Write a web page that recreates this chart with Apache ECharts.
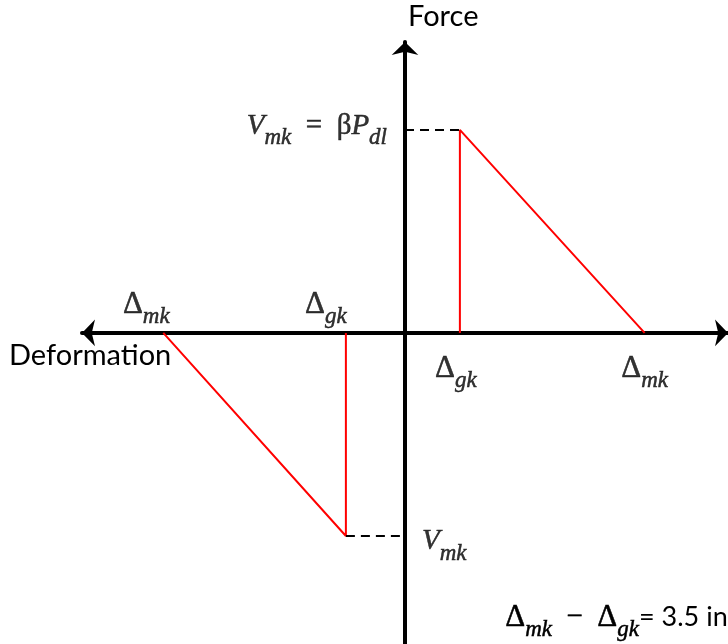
<!DOCTYPE html>
<html>
<head>
<meta charset="utf-8">
<script src="https://cdn.jsdelivr.net/npm/echarts@6/dist/echarts.min.js"></script>
<style>
  html, body { margin: 0; padding: 0; background: #fff; }
  #chart { width: 728px; height: 644px; }
</style>
</head>
<body>
<div id="chart"></div>
<script>
// deformation (in) and force (normalised to V_mk)
const rightX = [1.04, 1.04, 4.54];
const rightY = [0, 1, 0];
const leftX = [-1.12, -1.12, -4.58];
const leftY = [0, -1, 0];
const dashTopX = [0, 1.04];
const dashTopY = [1, 1];
const dashBotX = [-1.12, 0];
const dashBotY = [-1, -1];

const xRange = [-6.12, 6.12];
const yRange = [-1.532, 1.433];

const pairs = (xs, ys) => xs.map((x, i) => [x, ys[i]]);

const mathFont = 'Liberation Serif';
const ink = { color: '#000', textBorderColor: '#000', textBorderWidth: 0.5 };
const rich = {
  d: Object.assign({ fontFamily: mathFont, fontSize: 31, verticalAlign: 'middle', lineHeight: 40 }, ink),
  v: Object.assign({ fontFamily: mathFont, fontStyle: 'italic', fontSize: 29, verticalAlign: 'middle', lineHeight: 40 }, ink),
  s: Object.assign({ fontFamily: mathFont, fontStyle: 'italic', fontSize: 23, verticalAlign: 'bottom', lineHeight: 48 }, ink),
  e: Object.assign({ fontFamily: mathFont, fontSize: 29, verticalAlign: 'middle', lineHeight: 40 }, ink)
};

// same styles for a plain graphic text (zrender style names)
const gInk = { fill: '#000', stroke: '#000', lineWidth: 0.5 };
const graphicRich = {
  d: Object.assign({ fontFamily: mathFont, fontSize: 31, verticalAlign: 'middle', lineHeight: 40 }, gInk),
  s: Object.assign({ fontFamily: mathFont, fontStyle: 'italic', fontSize: 23, verticalAlign: 'bottom', lineHeight: 48 }, gInk),
  e: Object.assign({ fontFamily: mathFont, fontSize: 29, verticalAlign: 'middle', lineHeight: 40 }, gInk),
  t: { fontFamily: 'Lato', fontSize: 27, fill: '#000', verticalAlign: 'middle', lineHeight: 40 }
};

// label anchors on the data
const labels = [
  { value: [leftX[2], 0], text: '{d|Δ}{s|mk}', offset: [-17, -28] },
  { value: [leftX[0], 0], text: '{d|Δ}{s|gk}', offset: [-20, -28] },
  { value: [rightX[0], 0], text: '{d|Δ}{s|gk}', offset: [-4, 36] },
  { value: [rightX[2], 0], text: '{d|Δ}{s|mk}', offset: [0, 36] },
  { value: [0, rightY[1]], text: '{v|V}{s|mk}{e|  =  β}{v|P}{s|dl}', offset: [-13, -4], align: 'right' },
  { value: [0, leftY[1]], text: '{v|V}{s|mk}', offset: [12, 5], align: 'left' }
];

const chart = echarts.init(document.getElementById('chart'));

const axisCommon = {
  type: 'value',
  axisTick: { show: false },
  axisLabel: { show: false },
  splitLine: { show: false }
};

chart.setOption({
  animation: false,
  grid: { left: 82, right: 0, top: 42, bottom: 0 },
  xAxis: Object.assign({}, axisCommon, {
    min: xRange[0], max: xRange[1],
    axisLine: { show: true, onZero: true, symbol: ['arrow', 'arrow'], symbolSize: [20, 13],
      lineStyle: { color: '#000', width: 4 } }
  }),
  yAxis: Object.assign({}, axisCommon, {
    min: yRange[0], max: yRange[1],
    axisLine: { show: true, onZero: true, symbol: ['none', 'arrow'], symbolSize: [20, 13],
      lineStyle: { color: '#000', width: 4 } }
  }),
  graphic: [
    { type: 'text', left: 408, top: 2, style: { text: 'Force', fontFamily: 'Lato', fontSize: 29, fill: '#000' } },
    { type: 'text', left: 9, top: 341, style: { text: 'Deformation', fontFamily: 'Lato', fontSize: 29, fill: '#000' } },
    { type: 'text', left: 505, top: 602, style: { text: '{d|Δ}{s|mk}{e|  −  }{d|Δ}{s|gk}{t|= 3.5 in}', rich: graphicRich } }
  ],
  series: [
    { type: 'line', data: pairs(rightX, rightY), symbol: 'none', silent: true,
      lineStyle: { color: '#ff0000', width: 2 } },
    { type: 'line', data: pairs(leftX, leftY), symbol: 'none', silent: true,
      lineStyle: { color: '#ff0000', width: 2 } },
    { type: 'line', data: pairs(dashTopX, dashTopY), symbol: 'none', silent: true,
      lineStyle: { color: '#000', width: 2, type: [9, 6] } },
    { type: 'line', data: pairs(dashBotX, dashBotY), symbol: 'none', silent: true,
      lineStyle: { color: '#000', width: 2, type: [9, 6] } },
    { type: 'scatter', symbolSize: 0, silent: true,
      data: labels.map(l => ({
        value: l.value,
        label: {
          show: true,
          color: '#000',
          position: l.align === 'right' ? 'left' : (l.align === 'left' ? 'right' : 'inside'),
          offset: l.offset,
          formatter: l.text,
          rich: rich
        }
      }))
    }
  ]
});

window.addEventListener('resize', () => chart.resize());
</script>
</body>
</html>
